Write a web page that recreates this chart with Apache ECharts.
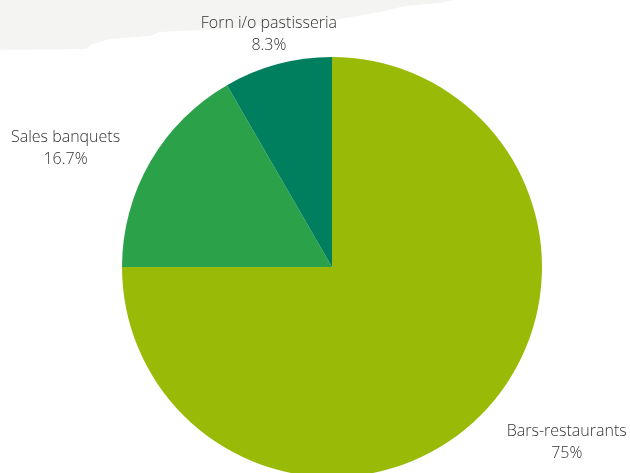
<!DOCTYPE html>
<html>
<head>
<meta charset="utf-8">
<script src="https://cdn.jsdelivr.net/npm/echarts@6/dist/echarts.min.js"></script>
<style>
  html, body { margin: 0; padding: 0; background: #fff; }
  #main { width: 630px; height: 473px; }
</style>
</head>
<body>
<div id="main"></div>
<script>
// data
var categories = ['Bars-restaurants', 'Sales banquets', 'Forn i/o pastisseria'];
var values = [9, 2, 1];

var colors = ['#99bb08', '#2ba14a', '#007f5f'];
var pieCenter = [332, 267];
var pieRadius = 210;

var myChart = echarts.init(document.getElementById('main'));

var total = values.reduce(function (a, b) { return a + b; }, 0);

// place labels like the original: just outside the rim, along the slice's mid angle
function placeLabel(params) {
  var i = params.dataIndex;
  var acc = 0;
  for (var k = 0; k < i; k++) acc += values[k];
  var ang = (acc + values[i] / 2) / total * Math.PI * 2;
  var dx = Math.sin(ang), dy = -Math.cos(ang);
  var ax = pieCenter[0] + (pieRadius + 30) * dx;
  var ay = pieCenter[1] + (pieRadius + 30) * dy;
  var align = Math.abs(dx) < 0.35 ? 'center' : (dx < 0 ? 'right' : 'left');
  var x = align === 'left' ? ax + 5 : (align === 'right' ? ax - 4 : ax - 1);
  return { x: x, y: ay + dy * 4 + 3, align: align, verticalAlign: 'middle' };
}

var option = {
  color: colors,
  backgroundColor: '#ffffff',
  animation: false,
  graphic: [{
    type: 'polygon',
    z: -10,
    shape: {
      points: [[0, 0], [455, 0], [440, 3], [405, 6], [380, 12], [340, 19], [300, 23],
               [250, 27], [200, 30], [160, 32], [150, 36], [110, 39], [92, 44], [86, 49], [0, 50]]
    },
    style: { fill: '#f4f4f3' }
  }],
  series: [{
    type: 'pie',
    center: pieCenter,
    radius: pieRadius,
    startAngle: 90,
    clockwise: true,
    percentPrecision: 1,
    avoidLabelOverlap: false,
    itemStyle: { borderWidth: 0 },
    emphasis: { disabled: true },
    labelLine: { show: false },
    label: {
      show: true,
      position: 'outside',
      formatter: '{c|{b}}\n{c|{d}%}',
      color: '#333333',
      fontFamily: 'Open Sans',
      fontWeight: 300,
      fontSize: 16,
      lineHeight: 22,
      rich: {
        c: { align: 'center', color: '#333333', fontFamily: 'Open Sans', fontWeight: 300, fontSize: 16, lineHeight: 22 }
      }
    },
    labelLayout: placeLabel,
    data: categories.map(function (name, i) {
      return { name: name, value: values[i] };
    })
  }]
};

myChart.setOption(option);
</script>
</body>
</html>
